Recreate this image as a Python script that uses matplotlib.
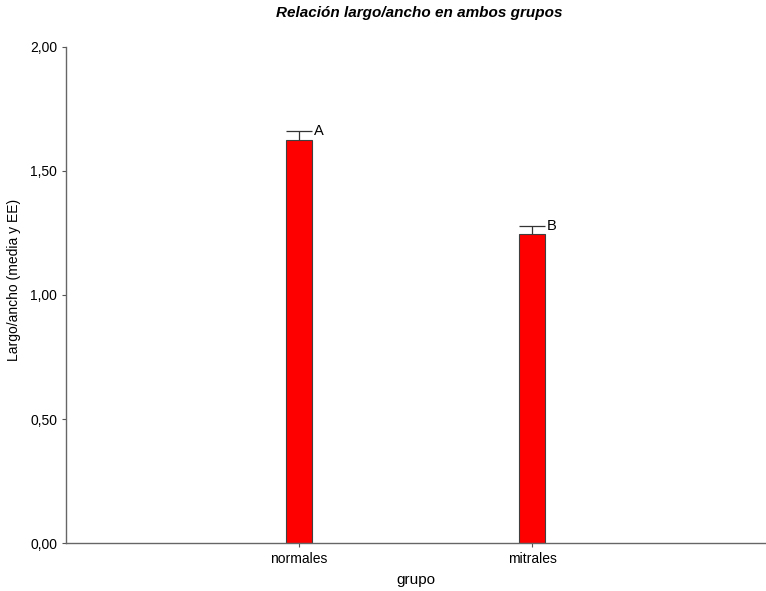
import numpy as np
import matplotlib
matplotlib.use('Agg')
import matplotlib.pyplot as plt
from matplotlib.ticker import FuncFormatter

grupos = ['normales', 'mitrales']
medias = [1.625, 1.245]
ee = [0.038, 0.033]
letras = ['A', 'B']

plt.rcParams['font.family'] = ['Liberation Sans', 'DejaVu Sans']
fig = plt.figure(figsize=(7.66, 5.91), dpi=100)
ax = fig.add_axes([0.0862, 0.0812, 0.9125, 0.8393])

x = np.arange(len(grupos))
ancho = 0.111
medias = np.array(medias)
ee = np.array(ee)
ax.bar(x, medias, width=ancho, color='#ff0000', edgecolor='#404040', linewidth=0.8, zorder=2)
# solo la barra de error superior
ax.vlines(x, medias, medias + ee, colors='#333333', linewidth=0.9, zorder=3)
ax.hlines(medias + ee, x - ancho / 2, x + ancho / 2, colors='#333333', linewidth=0.9, zorder=3)
for xi, m, e, l in zip(x, medias, ee, letras):
    ax.text(xi + ancho / 2 + 0.008, m + e, l, ha='left', va='center', fontsize=10.5)

ax.set_xlim(-1, 2)
ax.set_ylim(0, 2)
ax.set_yticks([0, 0.5, 1.0, 1.5, 2.0])
ax.yaxis.set_major_formatter(FuncFormatter(lambda v, p: f'{v:.2f}'.replace('.', ',')))
ax.set_xticks(x)
ax.set_xticklabels(grupos)
ax.tick_params(labelsize=10, length=3, color='#555555', width=0.8)
for s in ['top', 'right']:
    ax.spines[s].set_visible(False)
for s in ['left', 'bottom']:
    ax.spines[s].set_color('#666666')
    ax.spines[s].set_linewidth(1.0)

ax.set_xlabel('grupo', fontsize=11, labelpad=5)
ax.set_ylabel('Largo/ancho (media y EE)', fontsize=10, labelpad=5)
ax.yaxis.set_label_coords(-0.065, 0.53)
fig.text(0.547, 0.978, 'Relación largo/ancho en ambos grupos', ha='center', va='center',
         fontsize=11, fontweight='bold', fontstyle='italic')

fig.savefig('out.png', dpi=100)
